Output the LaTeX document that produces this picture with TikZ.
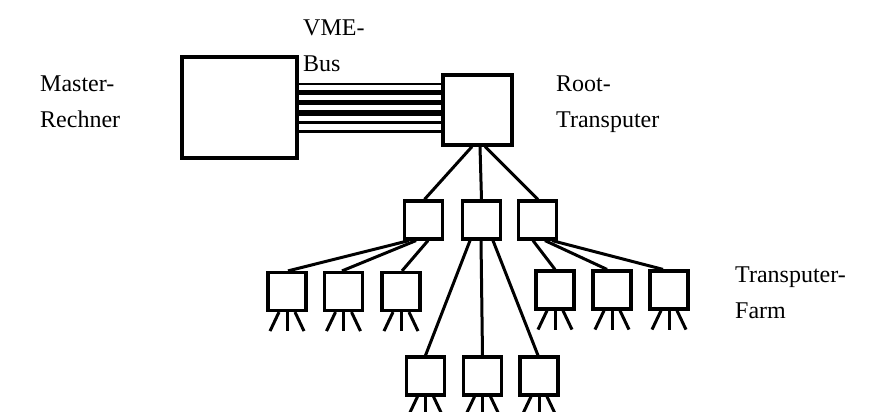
\documentclass[tikz,border=0pt]{standalone}
\usepackage{fontspec}
\setmainfont{Liberation Serif}
\begin{document}
\begin{tikzpicture}[x=1pt,y=-1pt,
  box/.style={draw,line width=3.2pt,inner sep=0pt,minimum width=38pt,minimum height=38pt},
  link/.style={line width=3pt},
  leg/.style={line width=3pt},
  lbl/.style={anchor=base west,align=left,inner sep=0pt,font=\fontsize{24}{36}\selectfont}]
\useasboundingbox (0,0) rectangle (884,412);
\clip (0,0) rectangle (884,412);
% main boxes
\node[draw,line width=3.2pt,inner sep=0pt,minimum width=115pt,minimum height=101pt] (master) at (239.5,107.5) {};
\node[draw,line width=3.2pt,inner sep=0pt,minimum width=69pt,minimum height=70pt] (root) at (477.5,110) {};
% bus
\draw[line width=2.5pt] (master.east |- 0,84) -- (root.west |- 0,84);
\draw[line width=5pt] (master.east |- 0,93) -- (root.west |- 0,93);
\draw[line width=5.5pt] (master.east |- 0,102.5) -- (root.west |- 0,102.5);
\draw[line width=5.5pt] (master.east |- 0,113) -- (root.west |- 0,113);
\draw[line width=3.5pt] (master.east |- 0,122.5) -- (root.west |- 0,122.5);
\draw[line width=2.5pt] (master.east |- 0,131.5) -- (root.west |- 0,131.5);
% level 1
\node[box] (b1) at (423.5,220) {};
\node[box] (b2) at (481.5,220) {};
\node[box] (b3) at (537.5,220) {};
% level 2
\node[box] (A) at (287,291.5) {};
\node[box] (B) at (343.5,291.5) {};
\node[box] (C) at (401,291.5) {};
\node[box] (D) at (555,290) {};
\node[box] (E) at (612,290) {};
\node[box] (F) at (669,290) {};
\node[box] (G) at (425.5,376) {};
\node[box] (H) at (482.5,376) {};
\node[box] (I) at (539,376) {};
% root to level 1
\draw[link] ([xshift=-5.5pt]root.south) -- ([xshift=1pt]b1.north);
\draw[link] ([xshift=2.5pt]root.south) -- (b2.north);
\draw[link] ([xshift=7.5pt]root.south) -- ([xshift=0.5pt]b3.north);
% level 1 to level 2
\draw[link] ([xshift=-14.5pt]b1.south) -- ([xshift=1pt]A.north);
\draw[link] ([xshift=-7.5pt]b1.south) -- ([xshift=-1.5pt]B.north);
\draw[link] ([xshift=4.5pt]b1.south) -- ([xshift=1pt]C.north);
\draw[link] ([xshift=-4.5pt]b3.south) -- (D.north);
\draw[link] ([xshift=7.5pt]b3.south) -- ([xshift=-5pt]E.north);
\draw[link] ([xshift=14.5pt]b3.south) -- ([xshift=-6pt]F.north);
\draw[link] ([xshift=-11.5pt]b2.south) -- (G.north);
\draw[link] ([xshift=-0.5pt]b2.south) -- (H.north);
\draw[link] ([xshift=11.5pt]b2.south) -- ([xshift=-1pt]I.north);
% legs
\foreach \n in {A,B,C,D,E,F,G,H,I}{
  \draw[leg] ([xshift=-8pt]\n.south) -- ++(-9,19);
  \draw[leg] (\n.south) -- ++(0,19);
  \draw[leg] ([xshift=8pt]\n.south) -- ++(9,19);
}
% labels
\node[lbl] (tm) at (40,128) {Master-\\Rechner};
\node[lbl] (tv) at (303,72) {VME-\\Bus};
\node[lbl] (tr) at (556,128) {Root-\\Transputer};
\node[lbl] (tf) at (735,318) {Transputer-\\Farm};
\end{tikzpicture}
\end{document}
